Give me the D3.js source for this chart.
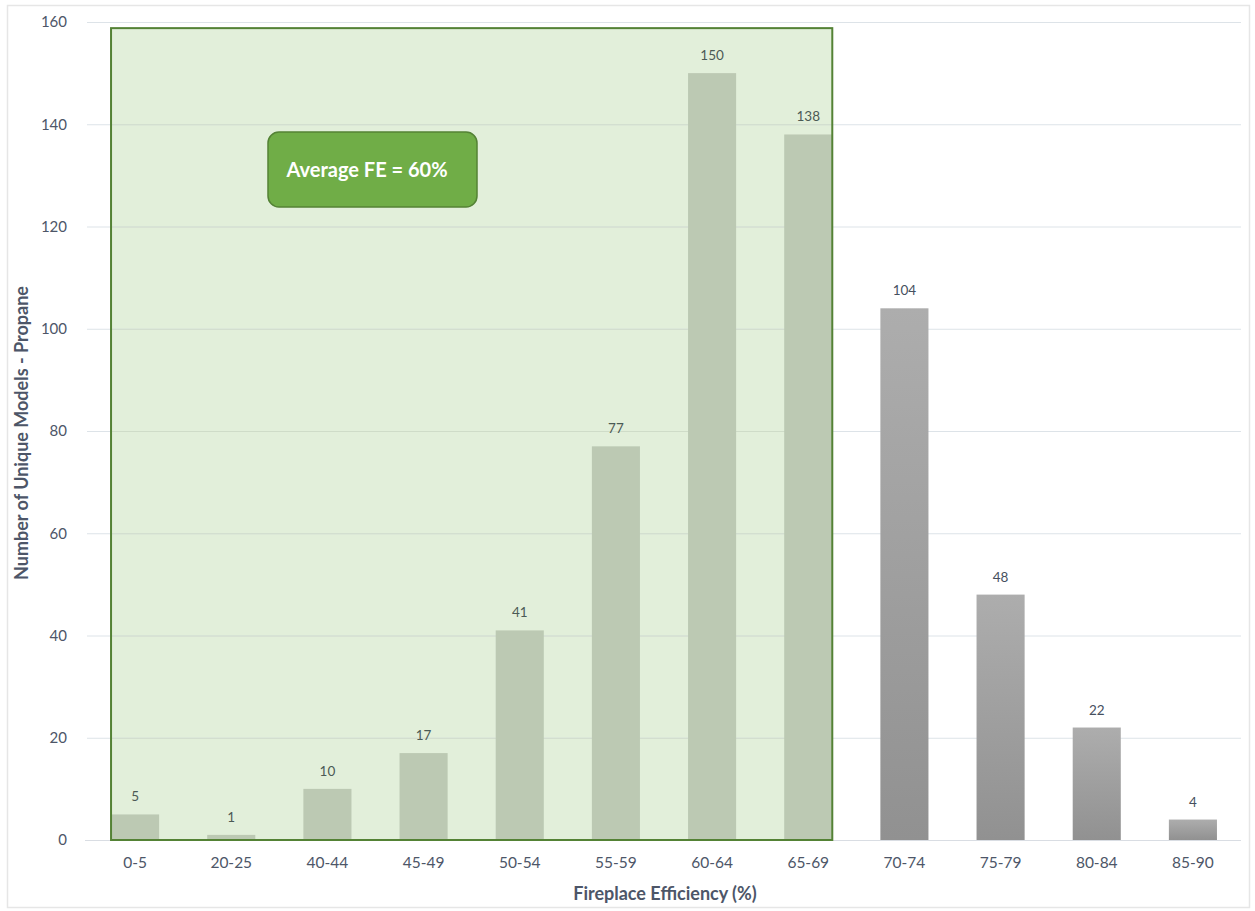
<!DOCTYPE html>
<html>
<head>
<meta charset="utf-8">
<script src="https://cdn.jsdelivr.net/npm/d3@7"></script>
<style>
  html, body { margin: 0; padding: 0; background: #fff; }
  svg { display: block; font-family: Lato, "Open Sans", sans-serif; }
</style>
</head>
<body>
<svg id="chart" width="1255" height="911"></svg>
<script>
// Efficiency bins and number of unique propane fireplace models in each
const categories = ["0-5", "20-25", "40-44", "45-49", "50-54", "55-59", "60-64", "65-69", "70-74", "75-79", "80-84", "85-90"];
const modelCounts = [5, 1, 10, 17, 41, 77, 150, 138, 104, 48, 22, 4];
const yTicks = [0, 20, 40, 60, 80, 100, 120, 140, 160];
// Bins covered by the highlighted "average" region
const highlightBins = ["0-5", "20-25", "40-44", "45-49", "50-54", "55-59", "60-64", "65-69"];
const highlightTop = 158.8;
const calloutText = "Average FE = 60%";
const xTitle = "Fireplace Efficiency (%)";
const yTitle = "Number of Unique Models - Propane";

const svg = d3.select("#chart");
const plotLeft = 87, plotRight = 1241, plotTop = 22, plotBottom = 840;

const x = d3.scaleBand().domain(categories).range([plotLeft, plotRight]).paddingInner(0.5).paddingOuter(0.25);
const y = d3.scaleLinear().domain([0, 160]).range([plotBottom, plotTop]);

// outer chart frame
svg.append("rect").attr("x", 7.5).attr("y", 5.5).attr("width", 1242).attr("height", 902)
  .attr("fill", "#fff").attr("stroke", "#e6e6e6").attr("stroke-width", 1.5);

// gradient for bars outside the highlighted region
const defs = svg.append("defs");
const grad = defs.append("linearGradient").attr("id", "barGray").attr("x1", 0).attr("y1", 0).attr("x2", 0).attr("y2", 1);
grad.append("stop").attr("offset", "0%").attr("stop-color", "#adadad");
grad.append("stop").attr("offset", "100%").attr("stop-color", "#919191");

const hx0 = x(highlightBins[0]);
const hx1 = x(highlightBins[highlightBins.length - 1]) + x.bandwidth();

// highlighted region fill
svg.append("rect").attr("x", hx0).attr("y", y(highlightTop)).attr("width", hx1 - hx0).attr("height", y(0) - y(highlightTop))
  .attr("fill", "#e2efda");

// gridlines
svg.append("g").selectAll("line").data(yTicks.filter(d => d > 0)).join("line")
  .attr("x1", plotLeft).attr("x2", plotRight).attr("y1", d => y(d) + 0.5).attr("y2", d => y(d) + 0.5)
  .attr("stroke", "#dde3e8").attr("stroke-width", 1);
// gridlines appear slightly tinted through the green region
svg.append("g").selectAll("line").data(yTicks.filter(d => d > 0 && d < highlightTop)).join("line")
  .attr("x1", hx0).attr("x2", hx1).attr("y1", d => y(d) + 0.5).attr("y2", d => y(d) + 0.5)
  .attr("stroke", "#cfdcc8").attr("stroke-width", 1);

// x baseline
svg.append("line").attr("x1", plotLeft - 2).attr("x2", plotRight).attr("y1", y(0) + 0.5).attr("y2", y(0) + 0.5)
  .attr("stroke", "#d9dde3").attr("stroke-width", 1);

const rows = categories.map((c, i) => ({ cat: c, v: modelCounts[i], hl: highlightBins.includes(c) }));

// bars
svg.append("g").selectAll("rect").data(rows).join("rect")
  .attr("x", d => x(d.cat)).attr("width", x.bandwidth())
  .attr("y", d => y(d.v)).attr("height", d => y(0) - y(d.v))
  .attr("fill", d => d.hl ? "#bcc9b3" : "url(#barGray)");

// value labels
svg.append("g").selectAll("text").data(rows).join("text")
  .attr("x", d => x(d.cat) + x.bandwidth() / 2).attr("y", d => y(d.v) - 13)
  .attr("text-anchor", "middle").attr("font-size", 13.5)
  .attr("fill", d => d.hl ? "#4b5a55" : "#46505e")
  .text(d => d.v);

// highlighted region border
svg.append("rect").attr("x", hx0).attr("y", y(highlightTop)).attr("width", hx1 - hx0).attr("height", y(0) - y(highlightTop))
  .attr("fill", "none").attr("stroke", "#548235").attr("stroke-width", 2);

// y axis tick labels
const yAxis = d3.axisLeft(y).tickValues(yTicks).tickSize(0).tickPadding(0);
const gy = svg.append("g").attr("transform", `translate(67,0)`).call(yAxis);
gy.select(".domain").remove();
gy.selectAll("text").attr("font-size", 15).attr("fill", "#4d5668").attr("font-family", "Lato, 'Open Sans', sans-serif");

// x axis tick labels
const xAxis = d3.axisBottom(x).tickSize(0).tickPadding(0);
const gx = svg.append("g").attr("transform", `translate(0,${plotBottom + 17})`).call(xAxis);
gx.select(".domain").remove();
gx.selectAll("text").attr("font-size", 15.5).attr("fill", "#4d5668").attr("font-family", "Lato, 'Open Sans', sans-serif");

// axis titles
svg.append("text").attr("x", 665).attr("y", 900).attr("text-anchor", "middle")
  .attr("font-size", 18).attr("font-weight", "bold").attr("fill", "#4d5668").text(xTitle);
svg.append("text").attr("transform", `translate(28,433) rotate(-90)`).attr("text-anchor", "middle")
  .attr("font-size", 18).attr("font-weight", "bold").attr("fill", "#4d5668").text(yTitle);

// average callout
const cx0 = 268, cy0 = 132, cw = 209, ch = 75;
svg.append("rect").attr("x", cx0).attr("y", cy0).attr("width", cw).attr("height", ch).attr("rx", 11).attr("ry", 11)
  .attr("fill", "#70ad47").attr("stroke", "#548235").attr("stroke-width", 1.5);
svg.append("text").attr("x", 367).attr("y", cy0 + ch / 2 + 7).attr("text-anchor", "middle")
  .attr("font-size", 20).attr("font-weight", "bold").attr("fill", "#ffffff").text(calloutText);
</script>
</body>
</html>
